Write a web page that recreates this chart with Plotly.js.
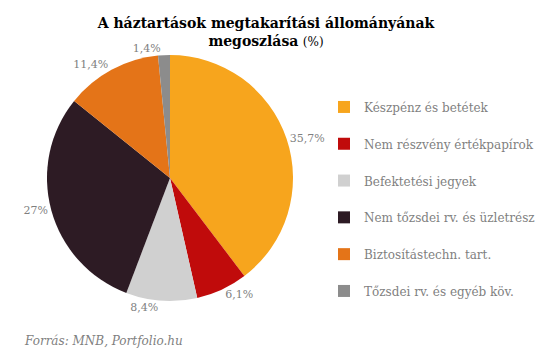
<!DOCTYPE html>
<html>
<head>
<meta charset="utf-8">
<script src="https://cdn.plot.ly/plotly-3.0.1.min.js"></script>
<style>html,body{margin:0;padding:0;background:#fff}</style>
</head>
<body>
<div id="chart" style="width:548px;height:358px"></div>
<script>
var categories = [
  "Készpénz és betétek",
  "Nem részvény értékpapírok",
  "Befektetési jegyek",
  "Nem tőzsdei rv. és üzletrész",
  "Biztosítástechn. tart.",
  "Tőzsdei rv. és egyéb köv."
];
var shares = [35.7, 6.1, 8.4, 27, 11.4, 1.4];
var sliceColors = ["#F7A51D", "#C00B0B", "#D0D0D0", "#2D1B24", "#E47418", "#8C8C8C"];

var labelText = shares.map(function (v) { return String(v).replace('.', ',') + '%'; });
var legendNames = categories.map(function (c) {
  return '<span style="font-size:12px">' + c + '</span><br> ';
});

var serif = "DejaVu Serif, Georgia, serif";

var trace = {
  type: 'pie',
  labels: legendNames,
  values: shares,
  text: labelText,
  textinfo: 'text',
  textposition: 'outside',
  sort: false,
  direction: 'clockwise',
  rotation: 0,
  marker: { colors: sliceColors, line: { width: 0 } },
  outsidetextfont: { family: serif, size: 11, color: '#7F7F7F' },
  automargin: false,
  hoverinfo: 'label+text',
  domain: { x: [47 / 548, 293 / 548], y: [1 - 301 / 358, 1 - 55 / 358] }
};

var layout = {
  width: 548,
  height: 358,
  margin: { l: 0, r: 0, t: 0, b: 0 },
  paper_bgcolor: '#ffffff',
  plot_bgcolor: '#ffffff',
  title: {
    text: '<b>A háztartások megtakarítási állományának<br>megoszlása</b> <span style="font-size:12px">(%)</span>',
    font: { family: serif, size: 14, color: '#000000' },
    x: 266 / 548,
    xanchor: 'center',
    y: 1 - 28 / 358,
    yanchor: 'middle'
  },
  showlegend: true,
  legend: {
    x: 324 / 548,
    xanchor: 'left',
    y: 1 - 92 / 358,
    yanchor: 'top',
    valign: 'top',
    font: { family: serif, size: 13, color: '#7F7F7F' },
    bgcolor: 'rgba(0,0,0,0)',
    borderwidth: 0
  },
  annotations: [{
    text: '<i>Forrás: MNB, Portfolio.hu</i>',
    xref: 'paper', yref: 'paper',
    x: 22 / 548, xanchor: 'left',
    y: 1 - 341 / 358, yanchor: 'middle',
    showarrow: false,
    font: { family: serif, size: 12, color: '#7F7F7F' }
  }]
};

Plotly.newPlot('chart', [trace], layout, { displayModeBar: false, staticPlot: true });
</script>
</body>
</html>
